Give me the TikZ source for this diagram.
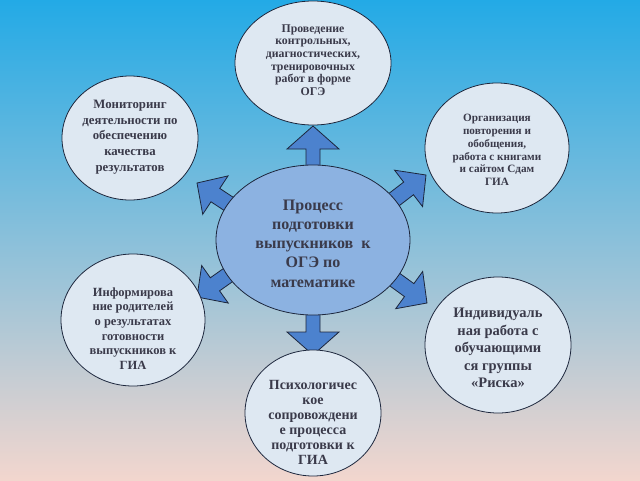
\documentclass[tikz,border=0pt]{standalone}
\usepackage{fontspec}
\setmainfont{Liberation Serif}
\usetikzlibrary{shapes.geometric,calc}
\pgfdeclarelayer{bg}\pgfdeclarelayer{arr}\pgfsetlayers{bg,arr,main}
\definecolor{bgtop}{RGB}{35,170,230}
\definecolor{bgmid}{RGB}{115,196,224}
\definecolor{bgbot}{RGB}{242,214,206}
\definecolor{satfill}{RGB}{222,232,242}
\definecolor{cenfill}{RGB}{140,178,225}
\definecolor{arrfill}{RGB}{76,130,206}
\definecolor{edgecol}{RGB}{28,38,60}
\definecolor{txtcol}{RGB}{58,58,74}
\tikzset{
  sat/.style={ellipse, draw=edgecol, line width=0.8pt, fill=satfill, inner sep=0pt},
  cen/.style={ellipse, draw=edgecol, line width=0.8pt, fill=cenfill, inner sep=0pt},
  txt/.style={align=center, text=txtcol, inner sep=0pt},
  barrow/.style={fill=arrfill, draw=edgecol, line width=0.8pt, line join=miter}
}
\newcommand\blockarrow[5]{%
  \coordinate (hb) at ($(#2)!#5!(#1)$);
  \draw[barrow] ($(#1)!#3!90:(#2)$) -- ($(hb)!#3!-90:(#1)$) -- ($(hb)!#4!-90:(#1)$) -- (#2)
    -- ($(hb)!#4!90:(#1)$) -- ($(hb)!#3!90:(#1)$) -- ($(#1)!#3!-90:(#2)$) -- cycle;
}
\begin{document}
\begin{tikzpicture}[x=1pt,y=-1pt]
\useasboundingbox (0,0) rectangle (640,480);
\begin{pgfonlayer}{bg}
\shade[top color=bgtop, middle color=bgmid, bottom color=bgbot] (0,0) rectangle (640,480);
\end{pgfonlayer}

% ellipses
\node[sat, minimum width=156pt, minimum height=124pt] (t) at (313,63) {};
\node[sat, minimum width=136pt, minimum height=124pt] (tl) at (130,138) {};
\node[sat, minimum width=144pt, minimum height=130pt] (tr) at (497,148) {};
\node[cen, minimum width=194pt, minimum height=150pt] (c) at (313,240) {};
\node[sat, minimum width=144pt, minimum height=132pt] (ml) at (133,320) {};
\node[sat, minimum width=146pt, minimum height=136pt] (mr) at (498,345) {};
\node[sat, minimum width=136pt, minimum height=126pt] (b) at (313,413) {};

% texts
\node[txt, font=\bfseries\fontsize{11.8}{12.6}\selectfont] (tT) at (313,60)
  {Проведение\\контрольных,\\диагностических,\\тренировочных\\работ в форме\\ОГЭ};
\node[txt, font=\bfseries\fontsize{12.8}{15.7}\selectfont] (tlT) at (130,137)
  {Мониторинг\\деятельности по\\обеспечению\\качества\\результатов};
\node[txt, font=\bfseries\fontsize{11.2}{12.8}\selectfont] (trT) at (497,150)
  {Организация\\повторения и\\обобщения,\\работа с книгами\\и сайтом Сдам\\ГИА};
\node[txt, font=\bfseries\fontsize{16}{19.2}\selectfont] (cT) at (313,243.5)
  {Процесс\\подготовки\\выпускников\ \ к\\ОГЭ по\\математике};
\node[txt, font=\bfseries\fontsize{12.5}{14.6}\selectfont] (mlT) at (133,328.5)
  {Информирова\\ние родителей\\о результатах\\готовности\\выпускников к\\ГИА};
\node[txt, font=\bfseries\fontsize{14.5}{17.5}\selectfont] (mrT) at (498,348)
  {Индивидуаль\\ная работа с\\обучающими\\ся группы\\«Риска»};
\node[txt, font=\bfseries\fontsize{14}{15}\selectfont] (bT) at (313,422.5)
  {Психологичес\\кое\\сопровождени\\е процесса\\подготовки к\\ГИА};

% arrows
\begin{pgfonlayer}{arr}
\coordinate (bU) at (313,178);  \coordinate (tU) at (313,126);
\coordinate (bD) at (313,302);  \coordinate (tD) at (313,355);
\coordinate (bUL) at (238,210); \coordinate (tUL) at (197,183);
\coordinate (bUR) at (387,205); \coordinate (tUR) at (426,175);
\coordinate (bLL) at (238,268); \coordinate (tLL) at (197,297);
\coordinate (bLR) at (387,274); \coordinate (tLR) at (427,303);
\blockarrow{bU}{tU}{7pt}{26pt}{23pt}
\blockarrow{bD}{tD}{7pt}{26pt}{23pt}
\blockarrow{bUL}{tUL}{8pt}{23pt}{22pt}
\blockarrow{bUR}{tUR}{8pt}{23pt}{22pt}
\blockarrow{bLL}{tLL}{8pt}{23pt}{22pt}
\blockarrow{bLR}{tLR}{8pt}{23pt}{22pt}
\end{pgfonlayer}
\end{tikzpicture}
\end{document}
